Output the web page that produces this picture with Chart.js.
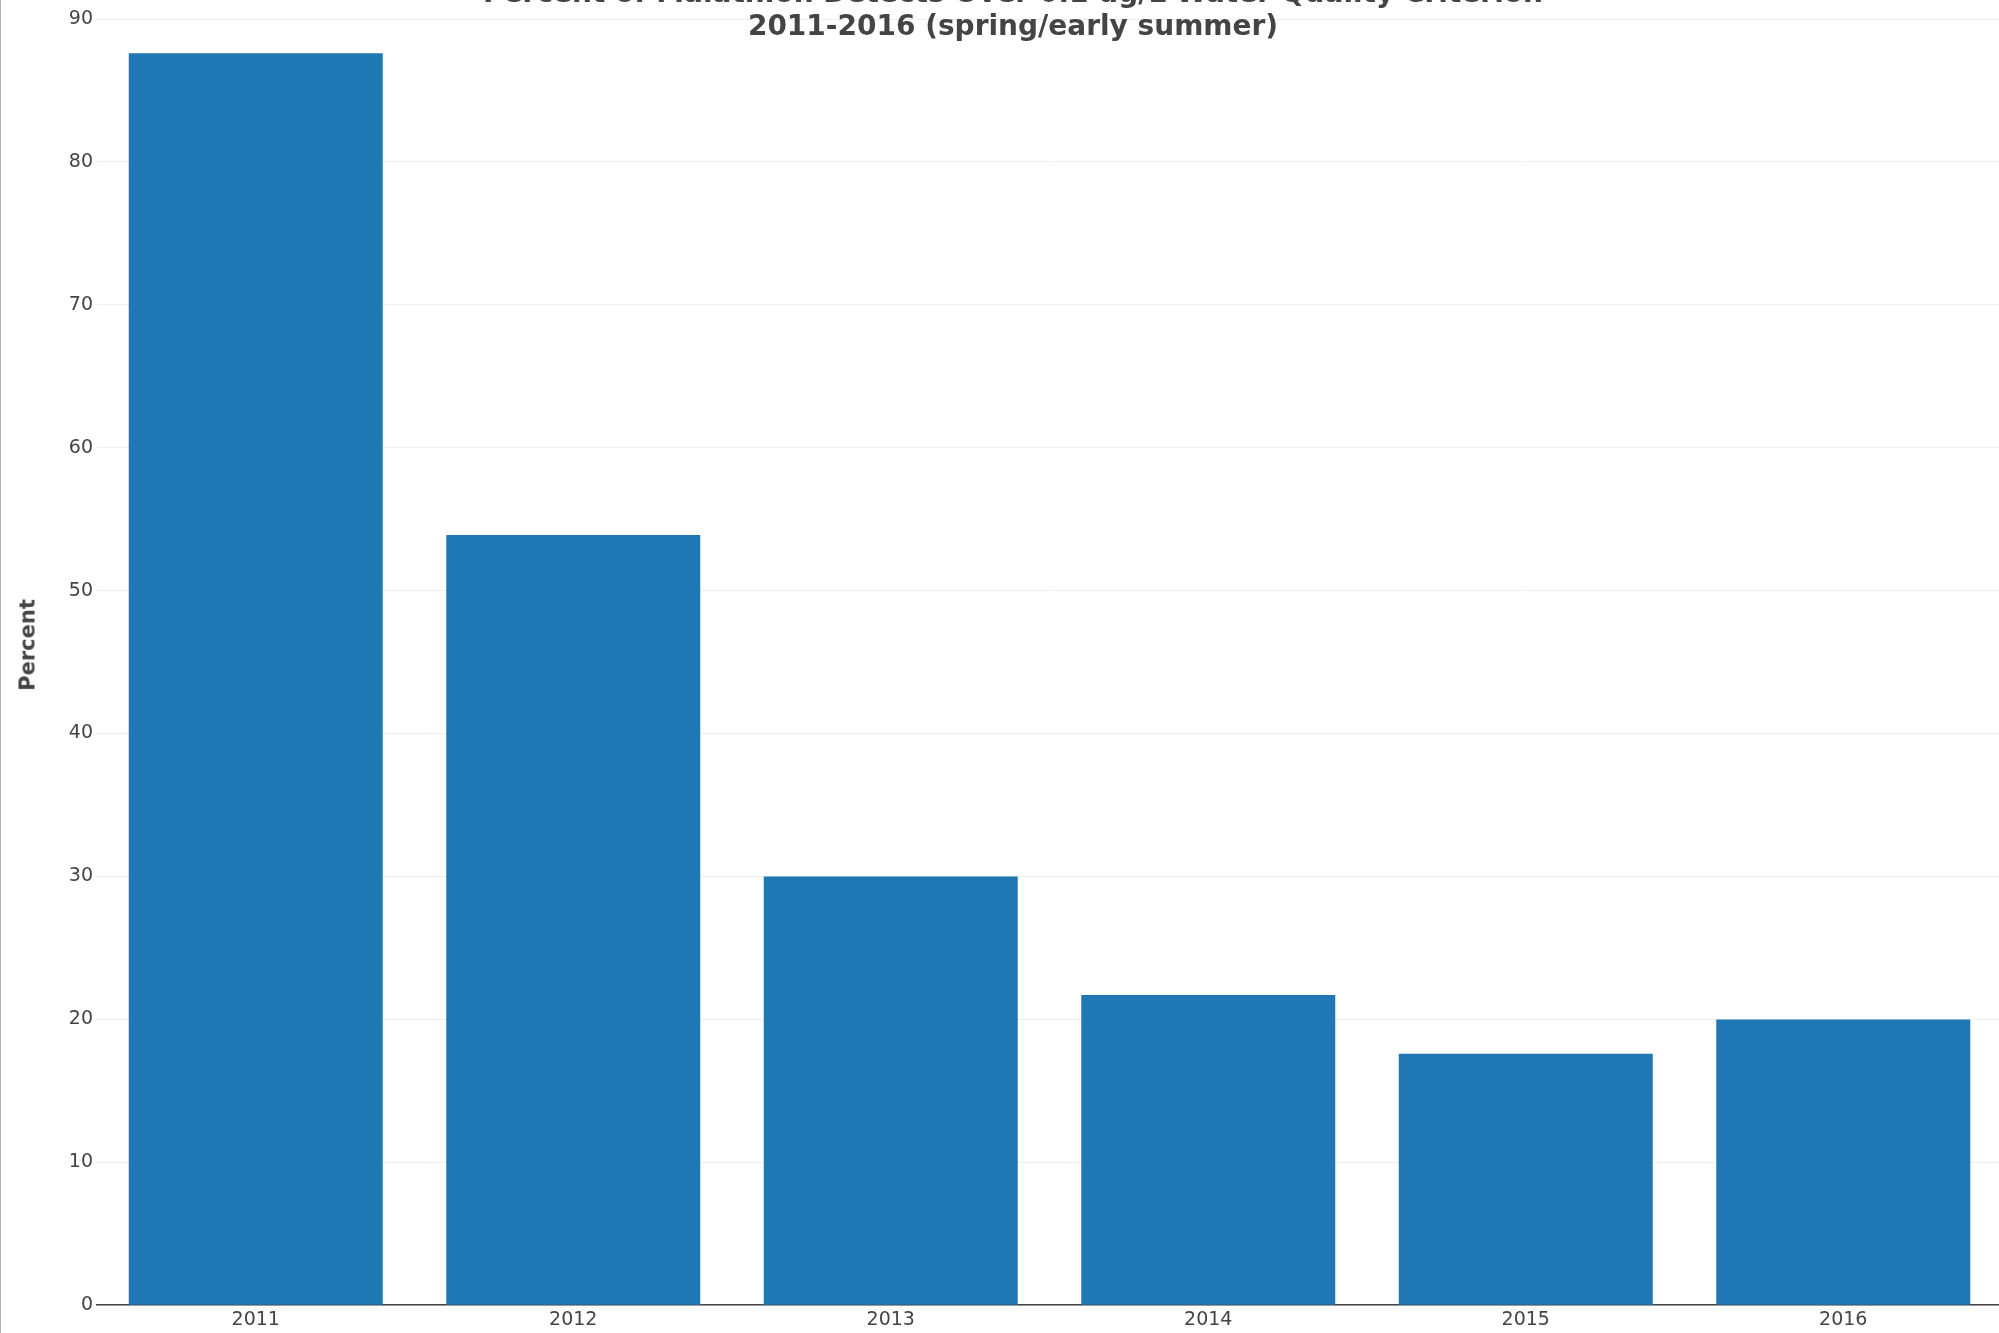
<!DOCTYPE html>
<html>
<head>
<meta charset="utf-8">
<script src="https://cdn.jsdelivr.net/npm/chart.js@4.4.1/dist/chart.umd.min.js"></script>
<style>
  html, body { margin: 0; padding: 0; background: #ffffff; overflow: hidden; }
  #frame { position: absolute; left: 0; top: 0; width: 1999px; height: 1333px; overflow: hidden; background: #fff; }
  #box { position: absolute; left: 0; top: 0; width: 2002px; height: 1334px; }
  #edge { position: absolute; left: 0; top: 0; width: 1px; height: 1333px; background: #b4b4b4; }
  .ttl { position: absolute; left: 0; width: 2026px; text-align: center; font-family: "DejaVu Sans", Verdana, sans-serif;
         font-weight: bold; font-size: 28px; line-height: 28px; color: #444; white-space: nowrap; }
  #ytitle { position: absolute; left: 28px; top: 645px; transform: translate(-50%, -50%) rotate(-90deg);
            font-family: "DejaVu Sans", Verdana, sans-serif; font-weight: bold; font-size: 21px; line-height: 21px;
            color: #444; white-space: nowrap; }
</style>
</head>
<body>
<div id="frame">
  <div id="box"><canvas id="c" width="2002" height="1334"></canvas></div>
  <div class="ttl" id="t1" style="top:-21px;">Percent of Malathion Detects Over 0.1 ug/L Water Quality Criterion</div>
  <div class="ttl" id="t2" style="top:12px;">2011-2016 (spring/early summer)</div>
  <div id="ytitle"></div>
  <div id="edge"></div>
</div>
<script>
const categories = ["2011", "2012", "2013", "2014", "2015", "2016"];
const percentValues = [87.6, 53.9, 30.0, 21.7, 17.6, 20.0];
const yTicks = [0, 10, 20, 30, 40, 50, 60, 70, 80, 90];
const yAxisTitle = "Percent";

document.getElementById('ytitle').textContent = yAxisTitle;

const tickFont = { family: "'DejaVu Sans', Verdana, sans-serif", size: 19 };

new Chart(document.getElementById('c'), {
  type: 'bar',
  data: {
    labels: categories,
    datasets: [{
      label: yAxisTitle,
      data: percentValues,
      backgroundColor: '#1f77b4',
      borderWidth: 0,
      categoryPercentage: 0.8,
      barPercentage: 1.0
    }]
  },
  options: {
    responsive: false,
    animation: false,
    devicePixelRatio: 1,
    layout: { padding: { top: 19, right: 0, bottom: 0, left: 0 } },
    plugins: {
      legend: { display: false },
      title: { display: false },
      tooltip: { enabled: false }
    },
    scales: {
      x: {
        grid: { display: false, drawTicks: false },
        border: { display: true, color: '#444', width: 1.5 },
        ticks: { color: '#444', font: tickFont, padding: 3, maxRotation: 0 }
      },
      y: {
        min: yTicks[0],
        max: yTicks[yTicks.length - 1],
        afterBuildTicks: (axis) => { axis.ticks = yTicks.map(v => ({ value: v })); },
        afterFit: (axis) => { axis.width = 97; },
        grid: { color: '#eeeeee', lineWidth: 1, drawTicks: false },
        border: { display: false },
        ticks: { color: '#444', font: tickFont, padding: 4 },
        title: { display: false }
      }
    }
  }
});
</script>
</body>
</html>
